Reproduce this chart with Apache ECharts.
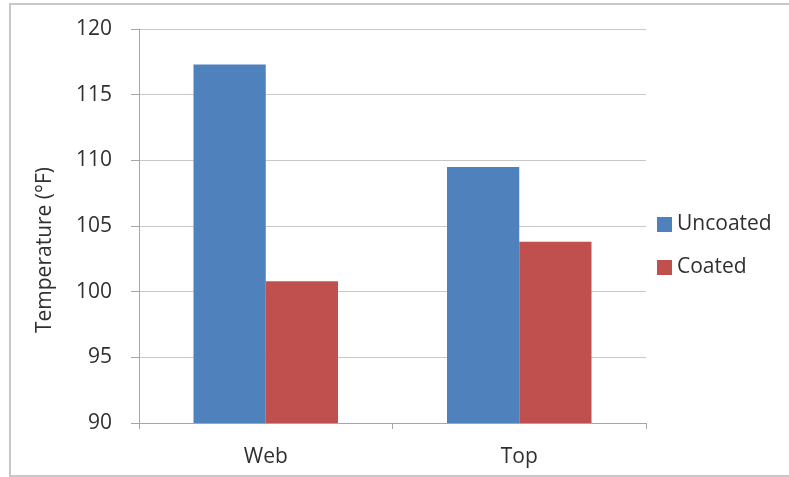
<!DOCTYPE html>
<html><head><meta charset="utf-8">
<script src="https://cdn.jsdelivr.net/npm/echarts@6/dist/echarts.min.js"></script>
<style>html,body{margin:0;padding:0;background:#fff;overflow:hidden}#c{width:789px;height:477px}
#frame{position:absolute;left:9px;top:3px;width:800px;height:474px;border:2px solid #c8c8c8;box-sizing:border-box;pointer-events:none}</style>
</head><body><div id="c"></div><div id="frame"></div>
<script>
const categories = ['Web', 'Top'];
const uncoated = [117.3, 109.5];
const coated = [100.8, 103.8];
const yTicks = [90, 95, 100, 105, 110, 115, 120];
const yTitle = 'Temperature (°F)';

const font = 'Open Sans';
const chart = echarts.init(document.getElementById('c'));
chart.setOption({
  animation: false,
  textStyle: {fontFamily: font},
  grid: {left: 139, right: 143, top: 29, bottom: 54},
  legend: {
    orient: 'vertical', left: 652, top: 209, itemWidth: 15, itemHeight: 15, itemGap: 22,
    icon: 'rect',
    textStyle: {fontFamily: font, fontSize: 21, color: '#303030'},
    data: ['Uncoated', 'Coated']
  },
  xAxis: {
    type: 'category', data: categories,
    axisLine: {lineStyle: {color: '#a6a6a6', width: 1}},
    axisTick: {show: true, length: 6, lineStyle: {color: '#a6a6a6'}},
    axisLabel: {fontFamily: font, fontSize: 21, color: '#303030', margin: 24}
  },
  yAxis: {
    type: 'value', min: yTicks[0], max: yTicks[yTicks.length - 1], interval: 5,
    name: yTitle, nameLocation: 'middle', nameGap: 83, nameRotate: 90,
    nameTextStyle: {fontFamily: font, fontSize: 21, color: '#303030', padding: [0, 48, 0, 0]},
    axisLine: {show: true, lineStyle: {color: '#a6a6a6'}},
    axisTick: {show: true, length: 8, lineStyle: {color: '#a6a6a6'}},
    axisLabel: {fontFamily: font, fontSize: 21, color: '#303030', margin: 27},
    splitLine: {lineStyle: {color: '#c8c8c8', width: 1}}
  },
  series: [
    {name: 'Uncoated', type: 'bar', data: uncoated, barGap: '0%', barCategoryGap: '43%',
     itemStyle: {color: '#4f81bd'}},
    {name: 'Coated', type: 'bar', data: coated, barGap: '0%', barCategoryGap: '43%',
     itemStyle: {color: '#c0504d'}}
  ]
});
</script></body></html>
